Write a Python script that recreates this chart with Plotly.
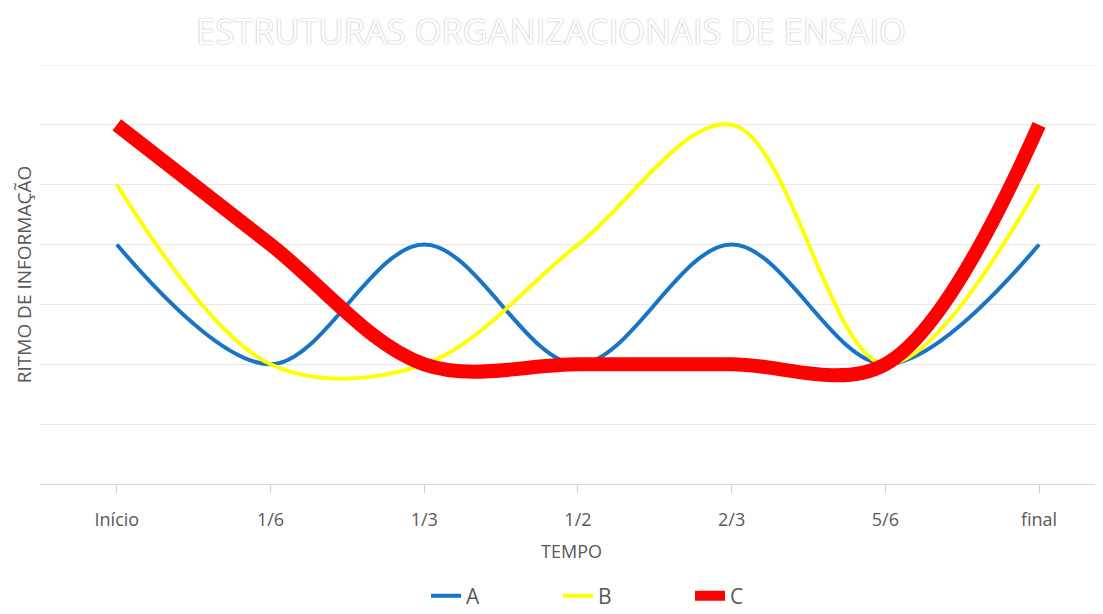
import plotly.graph_objects as go

categories = ["Início", "1/6", "1/3", "1/2", "2/3", "5/6", "final"]
serie_a = [4, 2, 4, 2, 4, 2, 4]
serie_b = [5, 2, 2, 4, 6, 2, 5]
serie_c = [6, 4, 2, 2, 2, 2, 6]

xs = list(range(len(categories)))
font_fam = "Open Sans, Noto Sans, sans-serif"
grey = "#595959"

# page body adds an 8px offset; layout numbers below compensate for it
OFF = 8
W, H = 1103, 626
plot_left, plot_top, plot_bottom, plot_right = 40 - OFF, 65 - OFF, 484 - OFF, 1103 - OFF
plot_h = plot_bottom - plot_top

fig = go.Figure()
fig.add_trace(go.Scatter(x=xs, y=serie_a, name="A", mode="lines",
                         line=dict(color="#1874C4", width=4, shape="spline", smoothing=1)))
fig.add_trace(go.Scatter(x=xs, y=serie_b, name="B", mode="lines",
                         line=dict(color="#FFFF00", width=4, shape="spline", smoothing=1)))
fig.add_trace(go.Scatter(x=xs, y=serie_c, name="C", mode="lines",
                         line=dict(color="#FF0000", width=14, shape="spline", smoothing=1)))

fig.update_layout(
    width=W, height=H,
    paper_bgcolor="white", plot_bgcolor="white",
    margin=dict(l=plot_left, r=W - plot_right, t=plot_top, b=H - plot_bottom, pad=0),
    font=dict(family=font_fam, color=grey),
    title=dict(text="ESTRUTURAS ORGANIZACIONAIS DE ENSAIO", x=(551 - OFF) / W, xanchor="center",
               y=1 - (32 - OFF) / H, yanchor="middle", yref="container",
               font=dict(size=34.5, color="white", family=font_fam,
                         shadow="0px 0px 1.5px #999999")),
    showlegend=True,
    legend=dict(orientation="h", x=(426 - 40) / (plot_right - plot_left), xanchor="left",
                y=-(596 - 484) / plot_h, yanchor="middle", font=dict(size=21, color=grey),
                entrywidth=87, itemwidth=30, bgcolor="rgba(0,0,0,0)"),
)
fig.update_xaxes(
    tickmode="array", tickvals=xs, ticktext=categories,
    range=[-0.5, 6.416], showgrid=False, zeroline=False,
    showline=True, linecolor="#d9d9d9", linewidth=1,
    ticks="outside", tickson="boundaries", ticklen=8, tickcolor="#d0d0d0", tickwidth=1,
    tickfont=dict(size=18, color=grey), ticklabelstandoff=11, automargin=False,
    title=dict(text="TEMPO", font=dict(size=18, color=grey), standoff=15),
)
fig.update_yaxes(
    range=[0, 7], dtick=1, showgrid=True, gridcolor="#e8e8e8", gridwidth=1,
    showticklabels=False, zeroline=False, showline=False, ticks="", automargin=False,
    title=dict(text="RITMO DE INFORMAÇÃO", font=dict(size=19, color=grey), standoff=2),
)
fig.add_hline(y=7, line=dict(color="#e8e8e8", width=1))

fig.write_html("out.html")
